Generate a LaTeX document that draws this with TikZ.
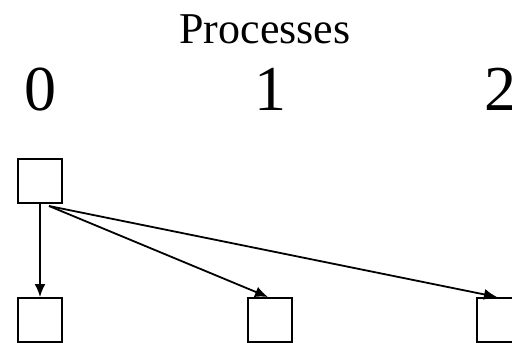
\documentclass[tikz,border=0pt]{standalone}
\usepackage{fontspec}
\setmainfont{Liberation Serif}
\usetikzlibrary{arrows.meta}
\tikzset{
  proc/.style={draw,line width=2pt,minimum size=44pt,inner sep=0pt},
  msg/.style={line width=1.8pt,-{Latex[length=13pt,width=11pt]}},
  rank/.style={anchor=base,inner sep=0pt,font=\fontsize{64}{64}\selectfont}
}
\begin{document}
\begin{tikzpicture}[x=1pt,y=-1pt]
\useasboundingbox (0,0) rectangle (512,343);
% heading and ranks
\node[anchor=base,inner sep=0pt,font=\fontsize{44}{44}\selectfont] (title) at (265,43) {Processes};
\node[rank] (r0) at (40,110) {0};
\node[rank] (r1) at (270,110) {1};
\node[rank] (r2) at (500,110) {2};
% boxes
\node[proc] (b0) at (40,181) {};
\node[proc] (c0) at (40,320) {};
\node[proc] (c1) at (270,320) {};
\node[proc] (c2) at (499,320) {};
% messages
\coordinate (s) at ([xshift=9pt,yshift=-2pt]b0.south);
\draw[msg] (b0.south) -- (c0.north);
\draw[msg] (s) -- ([xshift=-2pt]c1.north);
\draw[msg] (s) -- ([xshift=-2pt]c2.north);
\end{tikzpicture}
\end{document}
